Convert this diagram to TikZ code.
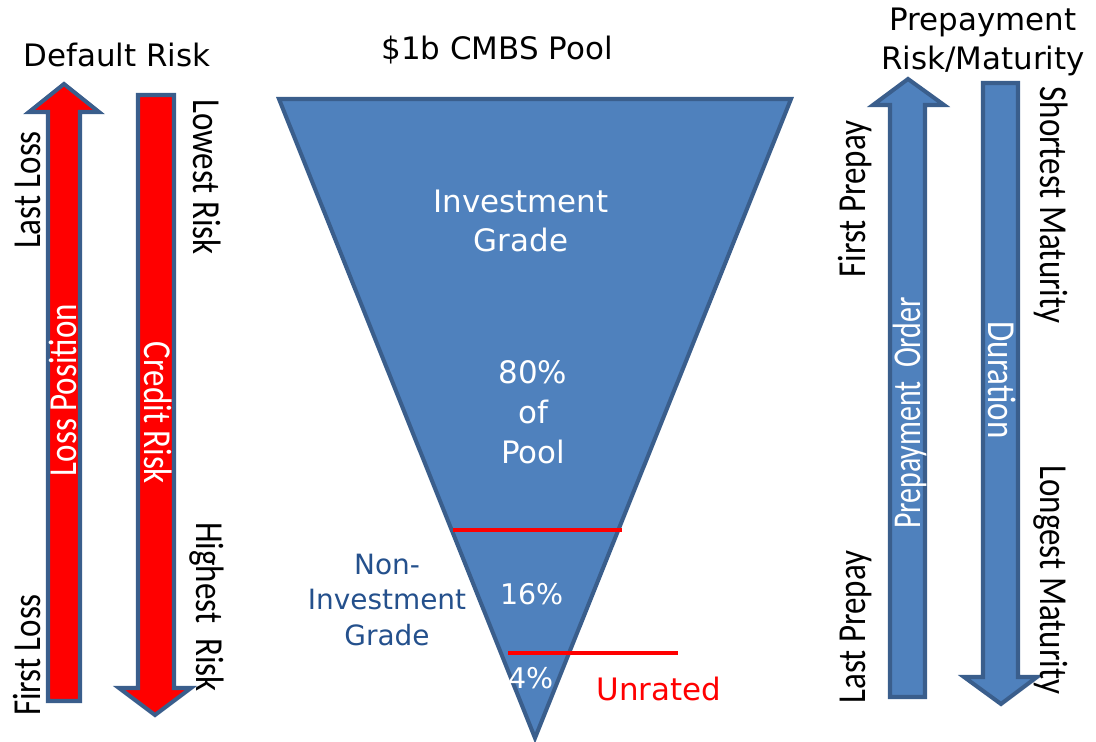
\documentclass[tikz,border=0pt]{standalone}
\usepackage{fontspec}
\usepackage{graphicx}
\setmainfont{DejaVu Sans}
\newfontfamily\calfont{Carlito}
\usetikzlibrary{positioning}
\definecolor{cmblue}{HTML}{4F81BD}
\definecolor{cmedge}{HTML}{3A5E8C}
\definecolor{cmred}{HTML}{FF0000}
\definecolor{cmnavy}{HTML}{24508C}
\newcommand{\tallsc}[1]{\scalebox{1}[1.2]{#1}}

\begin{document}
\begin{tikzpicture}[x=0.02cm, y=-0.02cm,
  every node/.style={inner sep=0pt},
  title/.style={font=\fontsize{17.6}{22.7}\selectfont, align=center},
  inpool/.style={title, text=white},
  side/.style={font=\calfont\fontsize{18.8}{22}\selectfont, anchor=base},
  upside/.style={side, rotate=90},
  downside/.style={side, rotate=-90},
  redarrow/.style={draw=cmedge, fill=cmred, line width=2.3pt},
  bluearrow/.style={draw=cmedge, fill=cmblue, line width=2.3pt},
  pool/.style={draw=cmedge, fill=cmblue, line width=2.3pt},
  cut/.style={draw=cmred, line width=2.3pt},
]
\useasboundingbox (0,0) rectangle (1096,742);

% Titles
\node[title] (deftitle) at (117,55) {Default Risk};
\node[title] (pooltitle) at (497,50) {\$1b CMBS Pool};
\node[title] (pretitle) at (983,42) {Prepayment\\Risk/Maturity};

% Default risk arrows
\draw[redarrow] (48,701) -- (48,112) -- (29,112) -- (64,84) -- (99,112) -- (80,112) -- (80,701) -- cycle;
\draw[redarrow] (138,95) -- (174,95) -- (174,688) -- (191,688) -- (155,715) -- (119,688) -- (138,688) -- cycle;
\node[upside] (lastloss) at (40,190) {\tallsc{Last Loss}};
\node[upside] (firstloss) at (40,655) {\tallsc{First Loss}};
\node[upside, text=white] (losspos) at (76,390) {\tallsc{Loss Position}};
\node[downside, text=white] (credit) at (144,413) {\tallsc{Credit Risk}};
\node[downside] (lowrisk) at (193,177) {\tallsc{Lowest Risk}};
\node[downside] (highrisk) at (196,607) {\tallsc{Highest\ \ Risk}};

% CMBS pool
\draw[pool] (279,99) -- (791,99) -- (535,738) -- cycle;
\draw[cut] (453,530) -- (622,530);
\draw[cut] (508,653) -- (678,653);
\node[inpool] (invgrade) at (521,221) {Investment\\Grade};
\node[inpool] (share80) at (533,412) {80\%\\of\\Pool};
\node[inpool, font=\fontsize{16.2}{20}\selectfont] (share16) at (532,594) {16\%};
\node[inpool, font=\fontsize{16.2}{20}\selectfont] (share4) at (531,678) {4\%};
\node[title, text=cmred] (unrated) at (659,689) {Unrated};
\node[title, text=cmnavy, font=\fontsize{15.9}{20.4}\selectfont] (noninv) at (387,600) {Non-\\Investment\\Grade};

% Prepayment arrows
\draw[bluearrow] (890,697) -- (890,105) -- (873,105) -- (908,79) -- (944,105) -- (925,105) -- (925,697) -- cycle;
\draw[bluearrow] (983,83) -- (1018,83) -- (1018,677) -- (1037,677) -- (1001,704) -- (964,677) -- (983,677) -- cycle;
\node[upside] (firstpre) at (865,199) {\tallsc{First Prepay}};
\node[upside] (lastpre) at (865,627) {\tallsc{Last Prepay}};
\node[upside, text=white, font=\calfont\fontsize{17}{20}\selectfont] (preorder) at (920,413) {\scalebox{1}[1.32]{Prepayment\ \ Order}};
\node[downside, text=white] (duration) at (988,380) {\tallsc{Duration}};
\node[downside] (shortmat) at (1040,205) {\tallsc{Shortest Maturity}};
\node[downside] (longmat) at (1040,580) {\tallsc{Longest Maturity}};

\end{tikzpicture}
\end{document}
